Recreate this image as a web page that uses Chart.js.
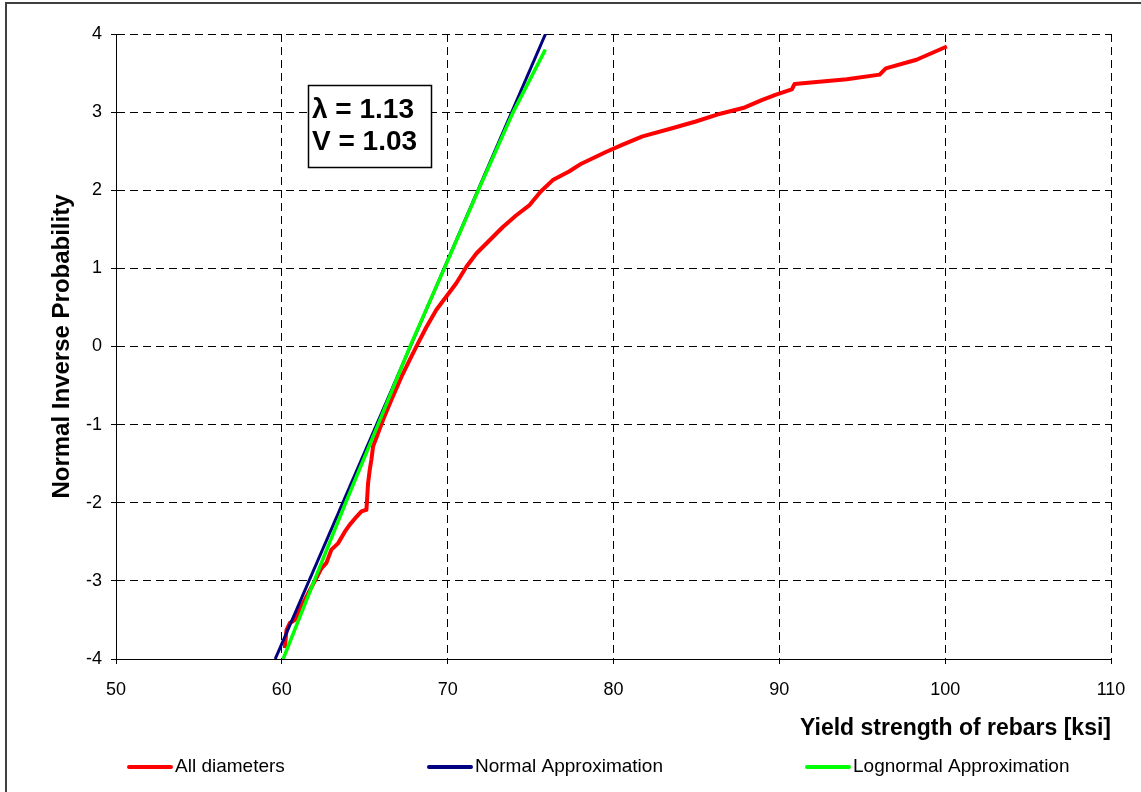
<!DOCTYPE html>
<html>
<head>
<meta charset="utf-8">
<script src="https://cdn.jsdelivr.net/npm/chart.js@4.4.1/dist/chart.umd.min.js"></script>
<style>
  html, body { margin: 0; padding: 0; background: #fff; overflow: hidden; }
  #wrap { width: 1141px; height: 792px; position: relative; }
</style>
</head>
<body>
<div id="wrap"><canvas id="chart" width="1141" height="792"></canvas></div>
<script>
/* ===== Yield strength probability plot ===== */

const allDiaX = [60.18, 60.28, 60.48, 60.78, 61.08, 61.69, 62.39, 62.69, 62.99, 63.39,
  63.80, 64.10, 64.50, 64.80, 65.10, 65.14, 65.20, 65.30, 65.40, 65.50,
  65.80, 66.10, 66.61, 67.21, 67.71, 68.21, 68.72, 69.32, 69.92, 70.52,
  71.13, 71.73, 72.53, 73.33, 74.14, 74.94, 75.60, 76.34, 77.32, 78.06,
  79.54, 80.52, 81.75, 83.48, 84.96, 86.44, 87.92, 88.90, 89.76, 90.75,
  90.92, 94.07, 96.05, 96.42, 98.27, 100.1];
const allDiaY = [-3.86, -3.63, -3.54, -3.50, -3.37, -3.12, -2.84, -2.77, -2.60, -2.52,
  -2.37, -2.28, -2.18, -2.11, -2.09, -1.96, -1.75, -1.58, -1.45, -1.28,
  -1.11, -0.94, -0.68, -0.39, -0.17, 0.04, 0.25, 0.47, 0.64, 0.81,
  1.02, 1.19, 1.36, 1.53, 1.68, 1.81, 1.98, 2.13, 2.24, 2.34,
  2.49, 2.58, 2.69, 2.79, 2.88, 2.98, 3.06, 3.15, 3.22, 3.29,
  3.36, 3.42, 3.48, 3.56, 3.67, 3.84];

// Normal approximation
const normalX = [59.6, 75.9];
const normalY = [-4, 4];

// Lognormal approximation
const lognormX = [60.08, 61.95, 63.85, 65.8, 67.73, 69.8, 71.85, 73.95, 75.89];
const lognormY = [-4, -3, -2, -1, 0, 1, 2, 3, 3.8];

const seriesNames = ['All diameters', 'Normal Approximation', 'Lognormal Approximation'];
const statLines = ['\u03BB = 1.13', 'V = 1.03'];

const xTitle = 'Yield strength of rebars [ksi]';
const yTitle = 'Normal Inverse Probability';

const FONT = "'Liberation Sans', Arial, sans-serif";

function toPoints(xs, ys) {
  return xs.map((x, i) => ({ x: x, y: ys[i] }));
}

const extras = {
  id: 'extras',
  beforeDraw(chart) {
    const ctx = chart.ctx;
    ctx.save();
    ctx.fillStyle = '#fff';
    ctx.fillRect(0, 0, chart.width, chart.height);
    ctx.restore();
  },
  afterDraw(chart) {
    const ctx = chart.ctx;
    ctx.save();

    // outer frame
    ctx.strokeStyle = '#404040';
    ctx.lineWidth = 2;
    ctx.strokeRect(6, 3, 1300, 1000);

    // stats box
    ctx.fillStyle = '#fff';
    ctx.fillRect(308, 85, 124, 83);
    ctx.strokeStyle = '#000';
    ctx.lineWidth = 1.5;
    ctx.strokeRect(308.5, 85.5, 123, 82);
    ctx.fillStyle = '#000';
    ctx.font = 'bold 28px ' + FONT;
    ctx.textBaseline = 'middle';
    ctx.textAlign = 'left';
    ctx.fillText(statLines[0], 312, 110);
    ctx.fillText(statLines[1], 312, 142);

    // legend
    const legendX = [127, 427, 805];
    ctx.font = '19px ' + FONT;
    chart.data.datasets.forEach((ds, i) => {
      const x0 = legendX[i];
      ctx.strokeStyle = ds.borderColor;
      ctx.lineWidth = 4;
      ctx.lineCap = 'round';
      ctx.beginPath();
      ctx.moveTo(x0 + 2, 767);
      ctx.lineTo(x0 + 44, 767);
      ctx.stroke();
      ctx.fillStyle = '#000';
      ctx.fillText(ds.label, x0 + 48, 767);
    });

    ctx.restore();
  }
};

new Chart(document.getElementById('chart'), {
  type: 'line',
  data: {
    datasets: [
      { label: seriesNames[0], data: toPoints(allDiaX, allDiaY), borderColor: '#ff0000', borderWidth: 4, order: 3, borderJoinStyle: 'round' },
      { label: seriesNames[1], data: toPoints(normalX, normalY), borderColor: '#000080', borderWidth: 3, order: 2 },
      { label: seriesNames[2], data: toPoints(lognormX, lognormY), borderColor: '#00ff00', borderWidth: 3.5, order: 1 }
    ]
  },
  options: {
    responsive: false,
    animation: false,
    events: [],
    elements: { point: { radius: 0 }, line: { tension: 0, fill: false } },
    layout: { padding: { left: 48, top: 34, right: 30, bottom: 50 } },
    plugins: { legend: { display: false }, tooltip: { enabled: false } },
    scales: {
      x: {
        type: 'linear',
        min: 50, max: 110,
        afterFit: s => { s.height = 83; },
        ticks: { stepSize: 10, color: '#000', font: { family: FONT, size: 18 }, padding: 15, maxRotation: 0 },
        grid: { color: '#000', lineWidth: 1, tickLength: 5, tickColor: '#000', tickBorderDash: [] },
        border: { display: true, color: '#000', width: 1, dash: [8, 5] },
        title: { display: true, text: xTitle, align: 'end', color: '#000', padding: 0, font: { family: FONT, size: 23, weight: 'bold' } }
      },
      y: {
        type: 'linear',
        min: -4, max: 4,
        afterFit: s => { s.width = 68; },
        ticks: { stepSize: 1, color: '#000', font: { family: FONT, size: 18 }, padding: 9 },
        grid: { color: '#000', lineWidth: 1, tickLength: 5, tickColor: '#000', tickBorderDash: [] },
        border: { display: true, color: '#000', width: 1, dash: [8, 5] },
        title: { display: true, text: yTitle, color: '#000', padding: 0, font: { family: FONT, size: 24, weight: 'bold' } }
      }
    }
  },
  plugins: [extras]
});
</script>
</body>
</html>
